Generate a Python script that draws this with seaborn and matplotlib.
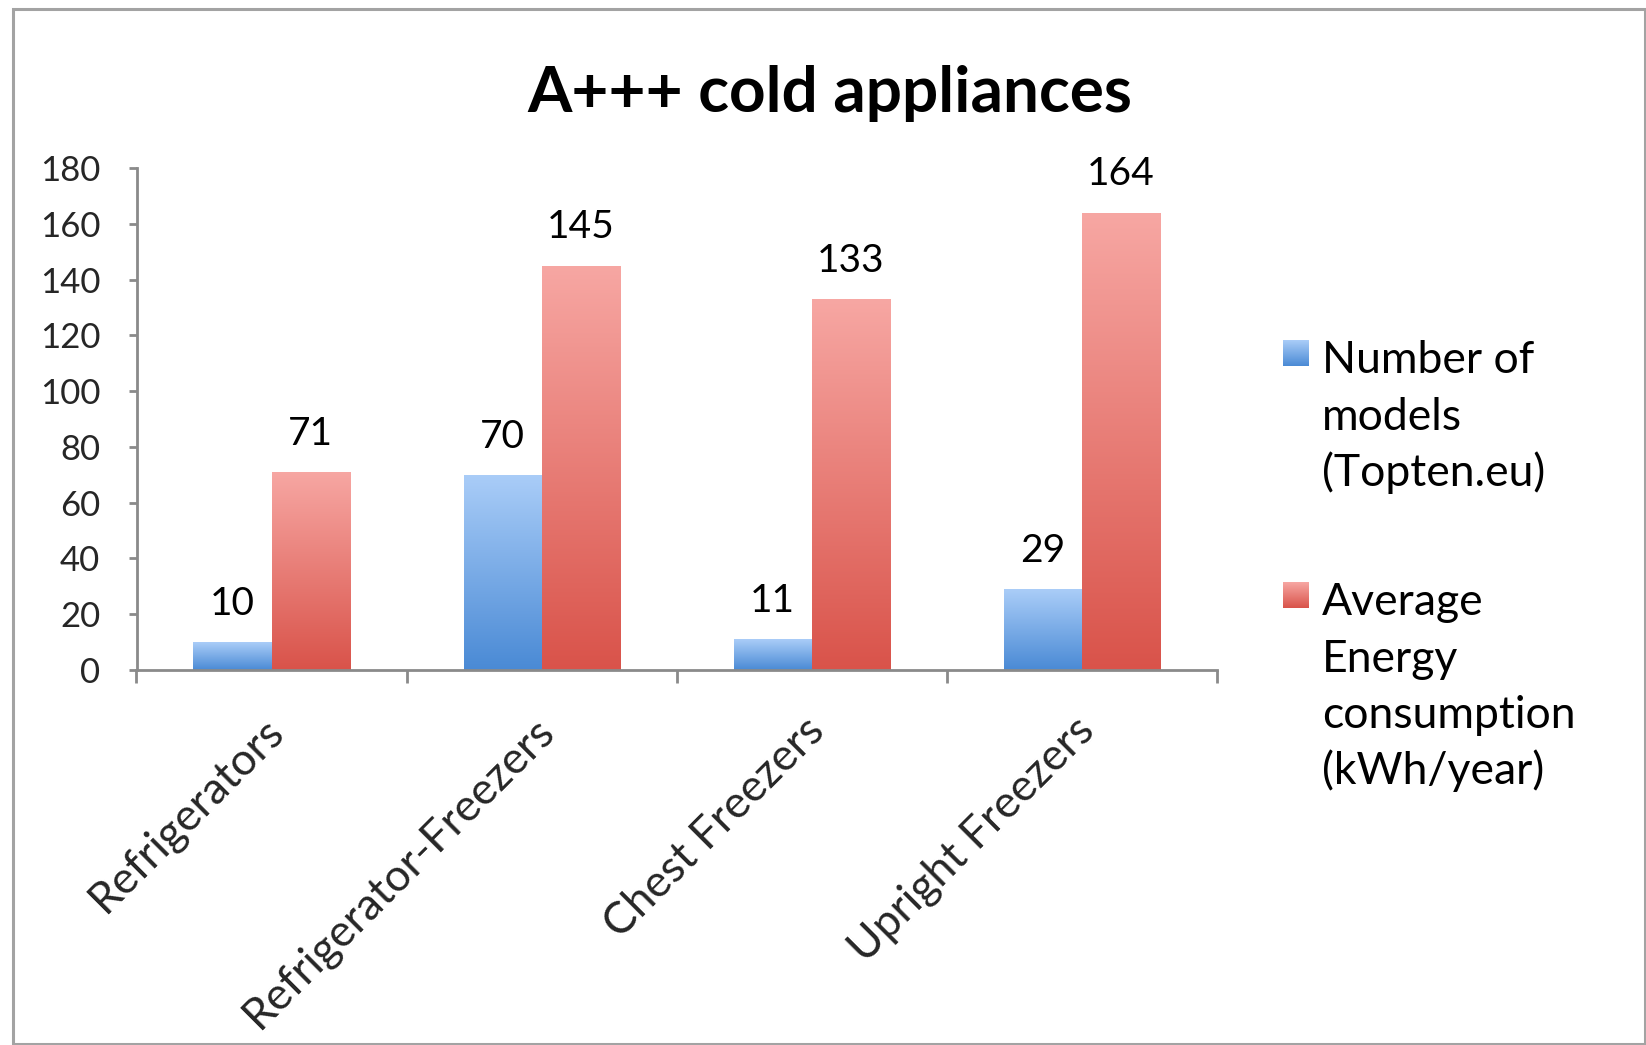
import numpy as np
import pandas as pd
import matplotlib
matplotlib.use("Agg")
import matplotlib.pyplot as plt
import matplotlib.transforms as mtransforms
import seaborn as sns
from matplotlib.colors import LinearSegmentedColormap
from matplotlib.patches import Rectangle

# ---- data -------------------------------------------------------------
title = "A+++ cold appliances"
categories = ["Refrigerators", "Refrigerator-Freezers", "Chest Freezers", "Upright Freezers"]
series_names = ["Number of models (Topten.eu)", "Average Energy consumption (kWh/year)"]
legend_lines = [["Number of", "models", "(Topten.eu)"],
                ["Average", "Energy", "consumption", "(kWh/year)"]]
num_models = [10, 70, 11, 29]
avg_energy = [71, 145, 133, 164]
y_ticks = [0, 20, 40, 60, 80, 100, 120, 140, 160, 180]

# ---- style ------------------------------------------------------------
gradients = [("#aacdf8", "#4a8ad5"),   # (top, bottom) blue
             ("#f7a7a3", "#d9534a")]   # (top, bottom) red
axis_grey = "#8a8a8a"
frame_grey = "#a3a3a3"

sns.set_theme(style="white")
plt.rcParams["font.family"] = ["Lato", "DejaVu Sans"]
plt.rcParams["text.color"] = "black"

W, H = 1646, 1045
fig = plt.figure(figsize=(W / 100, H / 100), dpi=100)
fig.patch.set_facecolor("white")

df = pd.DataFrame({
    "category": categories * 2,
    "series": [series_names[0]] * len(categories) + [series_names[1]] * len(categories),
    "value": num_models + avg_energy,
})

ax = fig.add_axes([136.5 / W, 1 - 670 / H, (1217 - 136.5) / W, (670 - 168) / H])
sns.barplot(data=df, x="category", y="value", hue="series",
            order=categories, hue_order=series_names,
            palette=[g[1] for g in gradients], saturation=1,
            width=0.578, linewidth=0, legend=False, ax=ax)

# vertical gradient fill, clipped to each bar
grad_img = np.linspace(1, 0, 256).reshape(-1, 1)
for cont, (top, bottom) in zip(ax.containers, gradients):
    cmap = LinearSegmentedColormap.from_list("bar", [bottom, top])
    for bar in cont:
        x0, w, h = bar.get_x(), bar.get_width(), bar.get_height()
        im = ax.imshow(grad_img, extent=[x0, x0 + w, 0, h], aspect="auto",
                       cmap=cmap, vmin=0, vmax=1, zorder=bar.get_zorder(),
                       interpolation="bilinear")
        im.set_clip_path(bar)
        bar.set_facecolor("none")
    ax.bar_label(cont, fmt="%g", padding=14.5, fontsize=28)

ax.set_xlim(-0.5, len(categories) - 0.5)
ax.set_ylim(0, 180)
ax.set_yticks(y_ticks)
ax.set_xlabel("")
ax.set_ylabel("")

# category labels at centres, tick marks at category boundaries
ax.set_xticks(range(len(categories)))
ax.set_xticklabels(categories, rotation=45, ha="right", va="center",
                   rotation_mode="anchor", fontsize=32)
ax.set_xticks(np.arange(-0.5, len(categories)), minor=True)
ax.tick_params(axis="x", which="major", length=0, pad=39)
ax.tick_params(axis="x", which="minor", bottom=True, length=9, width=2,
               color=axis_grey, direction="out")
ax.tick_params(axis="y", left=True, length=6, width=2, color=axis_grey,
               direction="out", pad=20, labelsize=25)
shift = mtransforms.ScaledTranslation(6 / 100, 0, fig.dpi_scale_trans)
for lab in ax.get_xticklabels():
    lab.set_transform(lab.get_transform() + shift)

for side in ("top", "right"):
    ax.spines[side].set_visible(False)
for side in ("left", "bottom"):
    ax.spines[side].set_color(axis_grey)
    ax.spines[side].set_linewidth(2)

# title
fig.text(830 / W, 1 - 112 / H, title, ha="center", va="baseline",
         fontsize=46, fontweight="bold")

# legend: gradient swatch next to the first line of each wrapped label
line_step = 56.5
first_baselines = [373, 615]
for lines, (top, bottom), base in zip(legend_lines, gradients, first_baselines):
    sw_top = base - 33
    sw = fig.add_axes([1283 / W, 1 - (sw_top + 26) / H, 26 / W, 26 / H])
    sw.imshow(grad_img, aspect="auto", vmin=0, vmax=1,
              cmap=LinearSegmentedColormap.from_list("sw", [bottom, top]))
    sw.set_axis_off()
    for i, line in enumerate(lines):
        fig.text(1322 / W, 1 - (base + i * line_step) / H, line,
                 ha="left", va="baseline", fontsize=32)

# outer chart frame
fig.add_artist(Rectangle((12.5 / W, 0.8 / H), (1644.5 - 12.5) / W, (1044.2 - 9) / H,
                         transform=fig.transFigure, fill=False,
                         edgecolor=frame_grey, linewidth=2.2))

fig.savefig("out.png", dpi=100, facecolor="white")
